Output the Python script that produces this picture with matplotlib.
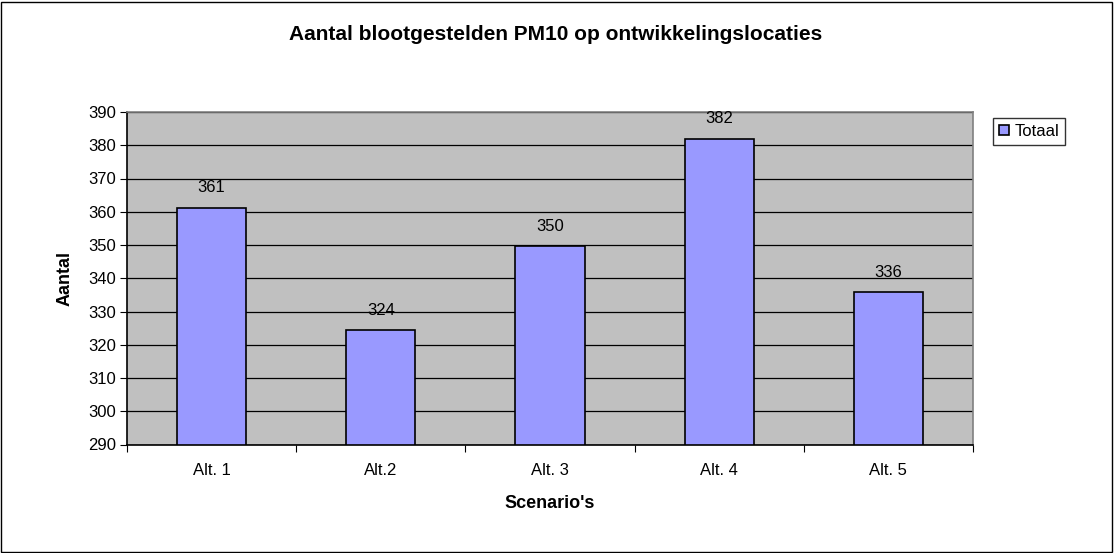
import matplotlib
matplotlib.use("Agg")
import matplotlib.pyplot as plt
from matplotlib.patches import Rectangle
from matplotlib.ticker import MultipleLocator

plt.rcParams['font.family'] = ['Liberation Sans', 'DejaVu Sans']

categories = ["Alt. 1", "Alt.2", "Alt. 3", "Alt. 4", "Alt. 5"]
values = [361.2, 324.3, 349.6, 381.9, 335.8]
labels = ["361", "324", "350", "382", "336"]
series_name = "Totaal"

W, H = 1114, 553
fig = plt.figure(figsize=(W / 100, H / 100), dpi=100)
fig.patch.set_facecolor("white")
fig.patches.append(Rectangle((1 / W, 1 / H), (W - 3) / W, (H - 3) / H,
                             transform=fig.transFigure, fill=False,
                             edgecolor="black", linewidth=1.0))

left, right, top, bottom = 127, 973, 112, 444.5
ax = fig.add_axes([left / W, 1 - bottom / H, (right - left) / W, (bottom - top) / H])
ax.set_facecolor("#C0C0C0")

x = list(range(len(categories)))
bars = ax.bar(x, [v - 290 for v in values], bottom=290, width=0.41,
              color="#9999FF", edgecolor="black", linewidth=1.2, zorder=3,
              label=series_name)
for xi, v, lab in zip(x, values, labels):
    ax.annotate(lab, (xi, v), xytext=(0, 14.5), textcoords="offset points",
                ha="center", va="center", fontsize=12, zorder=4)

ax.set_ylim(290, 390)
ax.set_xlim(-0.5, len(categories) - 0.5)
ax.yaxis.set_major_locator(MultipleLocator(10))
ax.grid(axis="y", color="black", linewidth=0.9, zorder=1)
ax.set_axisbelow(True)

ax.set_xticks([i + 0.5 for i in range(-1, len(categories))])
ax.set_xticklabels([])
ax.set_xticks(x, minor=True)
ax.set_xticklabels(categories, minor=True, fontsize=12)
ax.tick_params(axis="x", which="minor", length=0, pad=13)
ax.tick_params(axis="x", which="major", length=5, direction="out", color="black")
ax.tick_params(axis="y", length=5, direction="out", labelsize=12, pad=3)

for s in ["top", "right"]:
    ax.spines[s].set_color("#808080")
    ax.spines[s].set_linewidth(1.2)
for s in ["left", "bottom"]:
    ax.spines[s].set_color("black")
    ax.spines[s].set_linewidth(1.2)

fig.text(550 / W, 1 - 504 / H, "Scenario's", ha="center", va="center",
         fontsize=13, fontweight="bold")
fig.text(65 / W, 1 - 278 / H, "Aantal", ha="center", va="center",
         rotation=90, fontsize=13, fontweight="bold")

fig.text(556 / W, 1 - 34 / H, "Aantal blootgestelden PM10 op ontwikkelingslocaties",
         ha="center", va="center", fontsize=15, fontweight="bold")

leg = fig.legend(handles=[bars], labels=[series_name], loc="upper left",
                 bbox_to_anchor=(993 / W, 1 - 118 / H), fontsize=12,
                 frameon=True, fancybox=False, edgecolor="black",
                 handlelength=0.6, handleheight=0.6, handletextpad=0.35,
                 borderpad=0.35, borderaxespad=0)
leg.get_frame().set_linewidth(1.0)

fig.savefig("out.png", dpi=100)
